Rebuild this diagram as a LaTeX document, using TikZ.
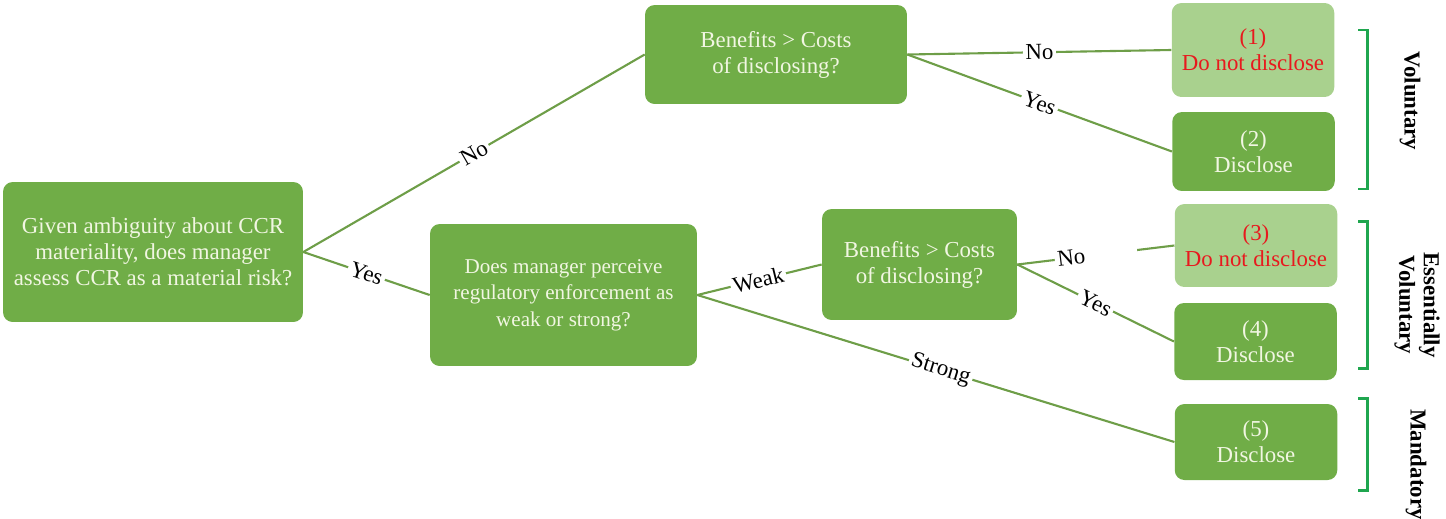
\documentclass[tikz,border=0pt]{standalone}
\usepackage{fontspec}
\setmainfont{Liberation Serif}
\usetikzlibrary{positioning}
\usepackage{xcolor}
\definecolor{boxgreen}{HTML}{70AD47}
\definecolor{palegreen}{HTML}{A9D18E}
\definecolor{linegreen}{HTML}{6E9E48}
\definecolor{brackgreen}{HTML}{1FA64F}
\definecolor{boxtext}{HTML}{F1F6E2}
\definecolor{stopred}{HTML}{E8191E}

\begin{document}
\begin{tikzpicture}[
    x=0.02cm, y=-0.02cm,
    font=\fontsize{13}{14.8}\selectfont,
    dec/.style={fill=boxgreen, text=boxtext, rounded corners=5.5pt, align=center, inner sep=2pt},
    outc/.style={dec, minimum width=3.25cm},
    nodisc/.style={outc, fill=palegreen, text=stopred},
    edge/.style={draw=linegreen, line width=1.2pt},
    lbl/.style={sloped, fill=white, inner sep=1.5pt, text=black},
    brk/.style={draw=brackgreen, line width=1.7pt},
    side/.style={rotate=-90, font=\fontsize{13}{14}\selectfont\bfseries, align=center}
  ]
  \useasboundingbox (0,0) rectangle (1446,518);

  % question boxes
  \node[dec, minimum width=6cm, minimum height=2.8cm] (ambig) at (153,252)
    {Given ambiguity about CCR\\materiality, does manager\\assess CCR as a material risk?};
  \node[dec, minimum width=5.24cm, minimum height=1.98cm] (cbTop) at (776,54.5)
    {Benefits > Costs\\of disclosing?};
  \node[dec, minimum width=5.34cm, minimum height=2.84cm, font=\fontsize{12}{15.1}\selectfont] (enforce) at (563.5,295)
    {Does manager perceive\\regulatory enforcement as\\weak or strong?};
  \node[dec, minimum width=3.9cm, minimum height=2.22cm] (cbMid) at (919.5,264.5)
    {Benefits > Costs\\of disclosing?};

  % outcomes
  \node[nodisc, minimum height=1.88cm] (out1) at (1253,50)    {(1)\\Do not disclose};
  \node[outc, minimum height=1.58cm]   (out2) at (1253.5,151.5) {(2)\\Disclose};
  \node[nodisc, minimum height=1.66cm] (out3) at (1256,245.5) {(3)\\Do not disclose};
  \node[outc, minimum height=1.54cm]   (out4) at (1255.5,341.5) {(4)\\Disclose};
  \node[outc, minimum height=1.52cm]   (out5) at (1256,442)   {(5)\\Disclose};

  % branches
  \draw[edge] (ambig.east) -- node[lbl] {No} (cbTop.west);
  \draw[edge] (ambig.east) -- node[lbl] {Yes} (enforce.west);
  \draw[edge] (cbTop.east) -- node[lbl] {No} (out1.west);
  \draw[edge] (cbTop.east) -- node[lbl] {Yes} (out2.west);
  \draw[edge] (enforce.east) -- node[lbl, pos=0.49] {Weak} (cbMid.west);
  \draw[edge] (enforce.east) -- node[lbl, pos=0.51] {Strong} (out5.west);
  \draw[edge] (cbMid.east) -- node[lbl, pos=0.5, text width=1.55cm, align=left] {No} (out3.west);
  \draw[edge] (cbMid.east) -- node[lbl] {Yes} (out4.west);

  % regime brackets
  \draw[brk] (1358,30) -- (1367,30) -- (1367,189) -- (1358,189);
  \draw[brk] (1358,221) -- (1367,221) -- (1367,368) -- (1358,368);
  \draw[brk] (1358,398) -- (1367,398) -- (1367,490) -- (1358,490);

  \node[side] (volA) at (1410,101) {Voluntary};
  \node[side] (volB) at (1417,305) {Essentially\\Voluntary};
  \node[side, anchor=west] (mand) at (1416,403) {Mandatory};
\end{tikzpicture}
\end{document}
